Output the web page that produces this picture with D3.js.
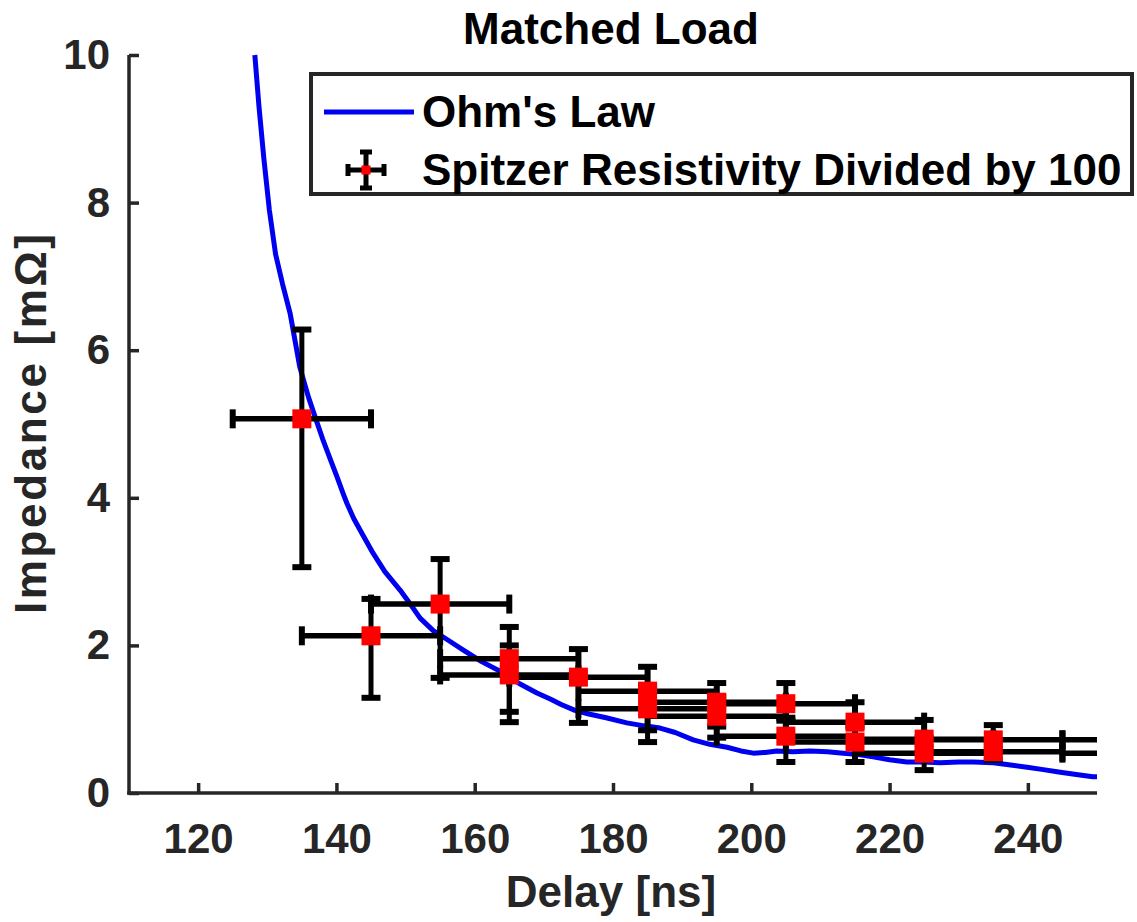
<!DOCTYPE html>
<html>
<head>
<meta charset="utf-8">
<script src="https://cdn.jsdelivr.net/npm/d3@7"></script>
<style>
  html, body { margin: 0; padding: 0; background: #fff; }
  svg { display: block; font-family: "Liberation Sans", Arial, Helvetica, sans-serif; font-weight: bold; }
</style>
</head>
<body>
<svg id="chart" width="1137" height="922"></svg>
<script>
// ---- Data ----
const titleText = "Matched Load";
const xLabel = "Delay [ns]";
const yLabel = "Impedance [mΩ]";
const xTicks = [120, 140, 160, 180, 200, 220, 240];
const yTicks = [0, 2, 4, 6, 8, 10];
const legendLabels = ["Ohm's Law", "Spitzer Resistivity Divided by 100"];

// Ohm's law curve (delay ns, impedance mΩ)
const ohmDelay = [128.2,128.8,129.5,130.3,131.2,132.2,133.3,134.7,136,136.9,138,139.2,140.1,141,141.5,142.5,143.8,145.3,147,149.2,150.6,152.1,154,156,158.3,161,164.1,166.5,169,171,172.5,174.5,176.5,179,182,184.5,186.8,189,191.6,194,196.5,198.5,200.3,202,203.7,206,208.5,211,213.3,215.5,217.6,220,222.5,225,227.3,230,232.1,235,237.5,239.9,242,244.7,247,249.4,250];
const ohmImp   = [10,9.3,8.6,7.9,7.3,6.9,6.5,5.77,5.35,5.1,4.8,4.5,4.28,4.05,3.93,3.72,3.5,3.25,3.0,2.75,2.57,2.37,2.2,2.08,1.94,1.78,1.63,1.48,1.355,1.27,1.2,1.12,1.07,1.02,0.95,0.91,0.88,0.82,0.72,0.66,0.62,0.57,0.54,0.55,0.57,0.56,0.57,0.56,0.54,0.52,0.49,0.45,0.42,0.42,0.41,0.42,0.42,0.41,0.38,0.35,0.32,0.28,0.25,0.22,0.22];

// Spitzer resistivity / 100 with error bars
const delay     = [135,145,155,165,165,175,185,185,195,195,205,205,215,215,225,225,235,235,255,255];
const delayErr  = [10,10,10,10,10,10,10,10,10,10,10,10,10,10,10,10,10,10,10,10];
const impedance = [5.07,2.13,2.56,1.82,1.60,1.57,1.38,1.14,1.23,1.04,1.21,0.77,0.96,0.69,0.73,0.54,0.72,0.56,0.72,0.54];
const impLow    = [3.06,1.29,1.56,1.10,0.96,0.95,0.85,0.69,0.90,0.75,0.98,0.42,0.70,0.42,0.55,0.31,0.55,0.45,0.55,0.40];
const impHigh   = [6.28,2.63,3.17,2.25,2.00,1.95,1.71,1.45,1.49,1.30,1.49,1.02,1.23,0.90,0.99,0.75,0.92,0.72,0.90,0.70];

// ---- Layout ----
const svg = d3.select("#chart");
const pLeft = 129, pRight = 1097, pTop = 55, pBottom = 793;
const x = d3.scaleLinear().domain([110, 250]).range([pLeft, pRight]);
const y = d3.scaleLinear().domain([0, 10]).range([pBottom, pTop]);
const axisColor = "#262626";

svg.append("defs").append("clipPath").attr("id", "plotClip")
  .append("rect").attr("x", pLeft).attr("y", pTop - 2).attr("width", pRight - pLeft).attr("height", pBottom - pTop + 2);

const plot = svg.append("g").attr("clip-path", "url(#plotClip)");

// Ohm's law line
const line = d3.line().x(d => x(d[0])).y(d => y(d[1]));
plot.append("path")
  .datum(ohmDelay.map((d, i) => [d, ohmImp[i]]))
  .attr("d", line)
  .attr("fill", "none")
  .attr("stroke", "#0000f0")
  .attr("stroke-width", 5)
  .attr("stroke-linejoin", "round");

// Error bars
const pts = delay.map((d, i) => ({ x: d, xe: delayErr[i], y: impedance[i], lo: impLow[i], hi: impHigh[i] }));
const cap = 9.5;
const eb = plot.append("g").attr("stroke", "#000").attr("stroke-width", 5).attr("fill", "none");
pts.forEach(p => {
  const px = x(p.x), py = y(p.y);
  eb.append("line").attr("x1", px).attr("x2", px).attr("y1", y(p.lo)).attr("y2", y(p.hi));
  eb.append("line").attr("x1", px - cap).attr("x2", px + cap).attr("y1", y(p.lo)).attr("y2", y(p.lo)).attr("stroke-width", 6);
  eb.append("line").attr("x1", px - cap).attr("x2", px + cap).attr("y1", y(p.hi)).attr("y2", y(p.hi)).attr("stroke-width", 6);
  const xl = x(p.x - p.xe), xr = x(p.x + p.xe);
  eb.append("line").attr("x1", xl).attr("x2", xr).attr("y1", py).attr("y2", py).attr("stroke-width", 5.5);
  eb.append("line").attr("x1", xl).attr("x2", xl).attr("y1", py - cap).attr("y2", py + cap).attr("stroke-width", 6);
  eb.append("line").attr("x1", xr).attr("x2", xr).attr("y1", py - cap).attr("y2", py + cap).attr("stroke-width", 6);
});
// markers
const ms = 19;
plot.append("g").selectAll("rect").data(pts).join("rect")
  .attr("x", d => x(d.x) - ms / 2).attr("y", d => y(d.y) - ms / 2)
  .attr("width", ms).attr("height", ms)
  .attr("fill", "#ff0000");

// ---- Axes ----
const xAxis = d3.axisBottom(x).tickValues(xTicks).tickSize(-10).tickPadding(30).tickSizeOuter(0);
const yAxis = d3.axisLeft(y).tickValues(yTicks).tickSize(-10).tickPadding(19).tickSizeOuter(0);

const gx = svg.append("g").attr("transform", `translate(0,${pBottom})`).call(xAxis);
const gy = svg.append("g").attr("transform", `translate(${pLeft},0)`).call(yAxis);
[gx, gy].forEach(g => {
  g.select(".domain").attr("stroke", axisColor).attr("stroke-width", 3.5);
  g.selectAll(".tick line").attr("stroke", axisColor).attr("stroke-width", 3.5);
  g.selectAll(".tick text").attr("fill", axisColor).attr("font-size", 42).attr("font-weight", "bold")
    .attr("font-family", '"Liberation Sans", Arial, sans-serif');
});
gx.select(".domain").attr("d", `M${pLeft - 1.75},0H${pRight}`);
gy.select(".domain").attr("d", `M0,${pTop}V${pBottom + 1.75}`);

// Labels
svg.append("text").attr("x", 611).attr("y", 44).attr("text-anchor", "middle")
  .attr("font-size", 44).attr("fill", "#000").text(titleText);
svg.append("text").attr("x", 611).attr("y", 907).attr("text-anchor", "middle")
  .attr("font-size", 44).attr("fill", axisColor).text(xLabel);
svg.append("text").attr("transform", `translate(46,${(pTop + pBottom) / 2}) rotate(-90)`).attr("text-anchor", "middle")
  .attr("font-size", 44).attr("fill", axisColor)
  .attr("textLength", 380).attr("lengthAdjust", "spacing").text(yLabel);

// ---- Legend ----
const lg = svg.append("g");
lg.append("rect").attr("x", 311).attr("y", 74).attr("width", 821).attr("height", 120)
  .attr("fill", "#fff").attr("stroke", axisColor).attr("stroke-width", 4);
lg.append("line").attr("x1", 324).attr("x2", 414).attr("y1", 112).attr("y2", 112)
  .attr("stroke", "#0000f0").attr("stroke-width", 5);
lg.append("text").attr("x", 422).attr("y", 127).attr("font-size", 44).attr("fill", "#000").text(legendLabels[0]);
const ix = 366, iy = 170, ih = 18, ic = 6;
const li = lg.append("g").attr("stroke", "#000").attr("stroke-width", 5);
li.append("line").attr("x1", ix).attr("x2", ix).attr("y1", iy - ih).attr("y2", iy + ih);
li.append("line").attr("x1", ix - ic).attr("x2", ix + ic).attr("y1", iy - ih).attr("y2", iy - ih);
li.append("line").attr("x1", ix - ic).attr("x2", ix + ic).attr("y1", iy + ih).attr("y2", iy + ih);
li.append("line").attr("x1", ix - ih).attr("x2", ix + ih).attr("y1", iy).attr("y2", iy);
li.append("line").attr("x1", ix - ih).attr("x2", ix - ih).attr("y1", iy - ic).attr("y2", iy + ic);
li.append("line").attr("x1", ix + ih).attr("x2", ix + ih).attr("y1", iy - ic).attr("y2", iy + ic);
lg.append("rect").attr("x", ix - 4.5).attr("y", iy - 4.5).attr("width", 9).attr("height", 9).attr("fill", "#ff0000");
lg.append("text").attr("x", 422).attr("y", 185).attr("font-size", 44).attr("fill", "#000").text(legendLabels[1]);
</script>
</body>
</html>
